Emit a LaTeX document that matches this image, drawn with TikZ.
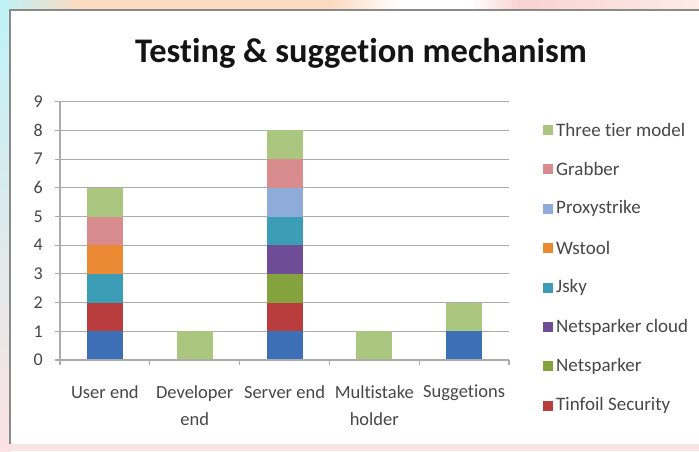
\documentclass[tikz,border=0pt]{standalone}
\usepackage{fontspec}
\setmainfont{Carlito}[Ligatures=NoCommon]
\definecolor{sBlue}{HTML}{3C6FB5}
\definecolor{sRed}{HTML}{B93D3D}
\definecolor{sGreen}{HTML}{84A33F}
\definecolor{sPurple}{HTML}{6E4C96}
\definecolor{sTeal}{HTML}{3B9DB6}
\definecolor{sOrange}{HTML}{EC8A33}
\definecolor{sLBlue}{HTML}{8FABD8}
\definecolor{sPink}{HTML}{D98C8E}
\definecolor{sLGreen}{HTML}{ABC67F}
\definecolor{gridc}{HTML}{ABABAB}
\definecolor{txtc}{HTML}{474747}
\definecolor{framec}{HTML}{8A8A8A}
\begin{document}
\begin{tikzpicture}[x=1pt,y=-1pt,
  gridline/.style={draw=gridc,line width=1.1pt},
  axisline/.style={draw=gridc,line width=1.1pt},
  ticklab/.style={anchor=east,inner sep=0pt,text=txtc,font=\fontsize{18}{18}\selectfont},
  catlab/.style={anchor=north,inner sep=0pt,align=center,text=txtc,font=\fontsize{18.5}{27}\selectfont},
  legsq/.style={minimum width=10pt,minimum height=10pt,inner sep=0pt},
  legtxt/.style={anchor=west,inner sep=0pt,text=txtc,font=\fontsize{19}{19}\selectfont}]
\useasboundingbox (0,0) rectangle (699,451);
% background watermark
\fill[color={rgb,255:red,252;green,228;blue,226}] (0,0) rectangle (699,451);
\shade[top color={rgb,255:red,190;green,242;blue,247},bottom color={rgb,255:red,252;green,226;blue,226}] (0,0) rectangle (10,451);
\shade[left color={rgb,255:red,190;green,242;blue,247},right color={rgb,255:red,252;green,218;blue,192}] (0,0) rectangle (80,10);
\fill[color={rgb,255:red,252;green,218;blue,192}] (80,0) rectangle (330,10);
\shade[left color={rgb,255:red,252;green,218;blue,192},right color=white] (330,0) rectangle (400,10);
\fill[white] (400,0) rectangle (470,10);
\shade[left color=white,right color={rgb,255:red,250;green,210;blue,210}] (470,0) rectangle (520,10);
\shade[left color={rgb,255:red,250;green,210;blue,210},right color={rgb,255:red,252;green,236;blue,230}] (520,0) rectangle (699,10);
% chart frame
\fill[white] (10,10) rectangle (705,444);
\draw[framec,line width=1.6pt] (10,444) -- (10,10) -- (705,10);
\draw[color={rgb,255:red,235;green,235;blue,235},line width=1pt] (10,444) -- (705,444);
% title
\node[font=\bfseries\fontsize{34.5}{34.5}\selectfont,text={rgb,255:red,20;green,20;blue,20}] (title) at (361,53) {Testing \& suggetion mechanism};
% gridlines and y labels
\foreach \v in {1,...,9} {
  \draw[gridline] (55,{360-28.7*\v}) -- (509,{360-28.7*\v});
}
\foreach \v in {0,...,9} {
  \node[ticklab] (ylab\v) at (43,{360-28.7*\v}) {\v};
}
% bars
\foreach \c/\lo/\col in {1/0/sBlue,1/1/sRed,1/2/sTeal,1/3/sOrange,1/4/sPink,1/5/sLGreen,
  2/0/sLGreen,
  3/0/sBlue,3/1/sRed,3/2/sGreen,3/3/sPurple,3/4/sTeal,3/5/sLBlue,3/6/sPink,3/7/sLGreen,
  4/0/sLGreen,
  5/0/sBlue,5/1/sLGreen} {
  \fill[\col] ({60+(\c-0.5)*89.8-18},{360-28.7*\lo}) rectangle ({60+(\c-0.5)*89.8+18},{360-28.7*(\lo+1)});
}
% axes
\draw[axisline] (60,{360-28.7*9}) -- (60,360);
\draw[axisline] (55,360) -- (509,360);
\foreach \k in {0,...,5} {
  \draw[axisline] ({60+\k*89.8},360) -- ({60+\k*89.8},365);
}
% category labels
\node[catlab] (c1) at ({60+0.5*89.8},385) {User end};
\node[catlab] (c2) at ({60+1.5*89.8},385) {Developer\\end};
\node[catlab] (c3) at ({60+2.5*89.8},385) {Server end};
\node[catlab] (c4) at ({60+3.5*89.8},385) {Multistake\\holder};
\node[catlab] (c5) at ({60+4.5*89.8},385) {Suggetions};
% legend
\foreach \i/\col/\txt in {0/sLGreen/Three tier model,1/sPink/Grabber,2/sLBlue/Proxystrike,3/sOrange/Wstool,4/sTeal/Jsky,5/sPurple/Netsparker cloud,6/sGreen/Netsparker,7/sRed/Tinfoil Security} {
  \node[legsq,fill=\col] (lsq\i) at (548,{130+39.4*\i}) {};
  \node[legtxt] (ltx\i) at (556,{130+39.4*\i}) {\txt};
}
\end{tikzpicture}
\end{document}
